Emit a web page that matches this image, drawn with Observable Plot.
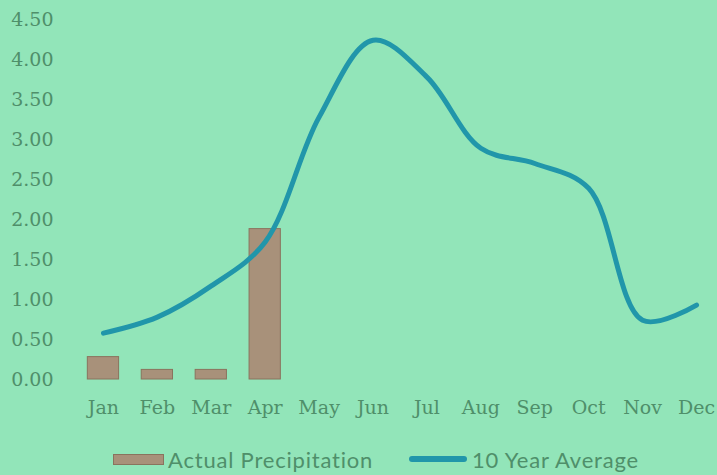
<!DOCTYPE html>
<html>
<head>
<meta charset="utf-8">
<script src="https://cdn.jsdelivr.net/npm/d3@7"></script>
<script src="https://cdn.jsdelivr.net/npm/@observablehq/plot@0.6"></script>
<style>
  html, body { margin: 0; padding: 0; background: #92e5b9; width: 717px; height: 475px; overflow: hidden; }
  #chart svg { display: block; }
  #legend { position: relative; height: 35px; font-family: Lato, "Open Sans", sans-serif; font-size: 22px; letter-spacing: 0.8px; color: #4f8f6a; }
  .item { position: absolute; top: 4px; display: flex; align-items: center; height: 30px; white-space: nowrap; }
  .sw-bar { width: 51px; height: 11px; background: #a8917a; border: 1px solid #8a735e; box-sizing: border-box; margin-right: 4px; }
  .sw-line { width: 58px; height: 6px; background: #2196aa; border-radius: 3px; margin-right: 5px; }
</style>
</head>
<body>
<div id="chart"></div>
<div id="legend">
  <div class="item" style="left:113px"><span class="sw-bar"></span><span>Actual Precipitation</span></div>
  <div class="item" style="left:409px"><span class="sw-line"></span><span>10 Year Average</span></div>
</div>
<script>
const months = ["Jan","Feb","Mar","Apr","May","Jun","Jul","Aug","Sep","Oct","Nov","Dec"];
const actualMonths = ["Jan","Feb","Mar","Apr"];
const actual = [0.28, 0.12, 0.12, 1.88];
const average = [0.58, 0.78, 1.17, 1.72, 3.28, 4.24, 3.78, 2.89, 2.70, 2.39, 0.74, 0.93];
const yTicks = [0, 0.5, 1, 1.5, 2, 2.5, 3, 3.5, 4, 4.5];

const barData = actualMonths.map((m, i) => ({month: m, value: actual[i]}));
const lineData = months.map((m, i) => ({month: m, value: average[i]}));

const textColor = "#4f8f6a";
const chart = Plot.plot({
  width: 717,
  height: 440,
  marginTop: 19,
  marginBottom: 61,
  marginLeft: 76,
  marginRight: 0,
  style: {background: "#92e5b9", color: textColor, fontFamily: "'DejaVu Serif', serif", fontSize: "19px", overflow: "hidden"},
  x: {domain: months, range: [76, 723], round: false, paddingInner: 0.42, paddingOuter: 0.21, label: null},
  y: {domain: [0, 4.5], label: null},
  marks: [
    Plot.barY(barData, {x: "month", y: "value", fill: "#a8917a", stroke: "#8a735e", strokeWidth: 1}),
    Plot.line(lineData, {x: "month", y: "value", curve: "catmull-rom", stroke: "#2196aa", strokeWidth: 5, strokeLinecap: "round"}),
    Plot.axisY(yTicks, {tickSize: 0, tickPadding: 23, tickFormat: d => d.toFixed(2), fill: textColor, fontSize: 19}),
    Plot.axisX({tickSize: 0, tickPadding: 21, fill: textColor, fontSize: 19})
  ]
});
document.getElementById("chart").appendChild(chart);
</script>
</body>
</html>
